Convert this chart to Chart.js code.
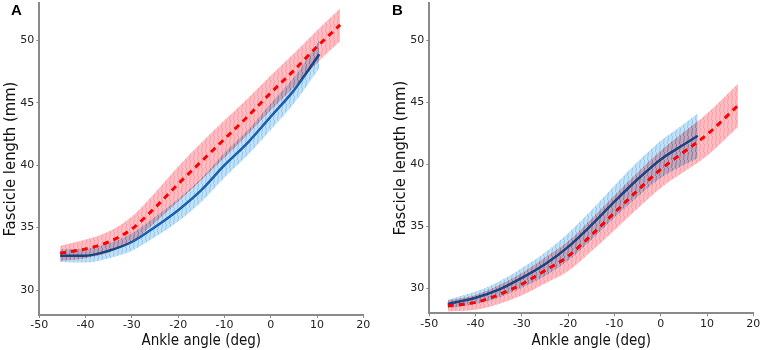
<!DOCTYPE html>
<html>
<head>
<meta charset="utf-8">
<script src="https://cdn.jsdelivr.net/npm/chart.js@4"></script>
<style>
  body { margin: 0; background: #fff; }
  #wrap { position: relative; width: 765px; height: 350px; }
  .panel { position: absolute; top: 0; height: 350px; }
  .tag { position: absolute; top: 1px; font: bold 15px "Liberation Sans", Arial, sans-serif; color: #000; }
</style>
</head>
<body>
<div id="wrap">
  <div class="panel" style="left:0; width:382px;"><canvas id="chartA"></canvas></div>
  <div class="panel" style="left:390px; width:375px;"><canvas id="chartB"></canvas></div>
  <div class="tag" style="left:11px;">A</div>
  <div class="tag" style="left:392px;">B</div>
</div>
<script>
// panel A
const anglesBlueA = [-45.5, -40, -35, -30, -25, -20, -15, -10, -5, 0, 5, 10.5];
const blueMeanA = [32.75, 32.75, 33.15, 33.85, 35.05, 36.4, 38.0, 40.0, 41.8, 43.9, 46.0, 48.9];
const blueSdA = [0.5, 0.55, 0.6, 0.7, 0.8, 0.9, 0.95, 1.0, 1.0, 1.05, 1.05, 1.1];
const anglesRedA = [-45.5, -40, -35, -30, -25, -20, -15, -10, -5, 0, 5, 10, 15];
const redMeanA = [32.95, 33.3, 33.85, 34.9, 36.6, 38.5, 40.3, 42.1, 43.9, 45.8, 47.6, 49.5, 51.25];
const redSdA = [0.6, 0.75, 0.85, 1.0, 1.2, 1.4, 1.5, 1.5, 1.45, 1.4, 1.35, 1.3, 1.3];

// panel B
const anglesBlueB = [-46, -40, -35, -30, -25, -20, -15, -10, -5, 0, 5, 8];
const blueMeanB = [28.75, 29.25, 29.9, 30.85, 31.95, 33.35, 35.1, 37.0, 38.8, 40.4, 41.6, 42.3];
const blueSdB = [0.35, 0.5, 0.65, 0.8, 0.95, 1.1, 1.2, 1.3, 1.4, 1.5, 1.65, 1.8];
const anglesRedB = [-46, -40, -35, -30, -25, -20, -15, -10, -5, 0, 5, 10, 16.7];
const redMeanB = [28.6, 28.88, 29.5, 30.35, 31.45, 32.6, 34.3, 36.1, 37.9, 39.6, 41.0, 42.4, 44.75];
const redSdB = [0.45, 0.6, 0.75, 0.9, 1.05, 1.2, 1.3, 1.4, 1.45, 1.5, 1.6, 1.7, 1.75];

const xTicks = [-50, -40, -30, -20, -10, 0, 10, 20];
const yTicks = [30, 35, 40, 45, 50];

function hatch(base, stripe) {
    const c = document.createElement('canvas');
    c.width = 4; c.height = 8;
    const g = c.getContext('2d');
    g.fillStyle = base;
    g.fillRect(0, 0, 4, 8);
    g.strokeStyle = stripe;
    g.lineWidth = 1;
    g.beginPath();
    g.moveTo(2.5, 0); g.lineTo(1.5, 8);
    g.stroke();
    return g.createPattern(c, 'repeat');
}

const redFill = hatch('rgb(255,190,196)', 'rgb(255,155,162)');
const blueFill = hatch('rgb(194,226,248)', 'rgb(145,198,240)');

// bands are multiplied onto what is under them, lines are drawn normally
const blendBands = {
    id: 'blendBands',
    beforeDatasetsDraw: c => { c.ctx.globalCompositeOperation = 'multiply'; },
    beforeDatasetDraw: c => { c.ctx.globalCompositeOperation = 'source-over'; },
    afterDatasetDraw: c => { c.ctx.globalCompositeOperation = 'multiply'; },
    afterDatasetsDraw: c => { c.ctx.globalCompositeOperation = 'source-over'; }
};

function pts(xs, ys, sd, sign) {
    return xs.map((x, i) => ({ x: x, y: sd ? ys[i] + sign * sd[i] : ys[i] }));
}

function makeChart(id, aB, mB, sB, aR, mR, sR, rightPad, axisH) {
    const line = { pointRadius: 0, cubicInterpolationMode: 'monotone' };
    const edge = { ...line, borderWidth: 0, borderColor: 'transparent' };
    const noPad = s => { s.paddingTop = 0; s.paddingBottom = 0; s.paddingLeft = 0; s.paddingRight = 0; };
    return new Chart(document.getElementById(id), {
        type: 'line',
        data: {
            datasets: [
                { ...line, data: pts(aR, mR), borderColor: '#ff0000', borderWidth: 3, borderDash: [6, 5], fill: false },
                { ...edge, data: pts(aR, mR, sR, 1), backgroundColor: redFill, fill: 2 },
                { ...edge, data: pts(aR, mR, sR, -1), fill: false },
                { ...line, data: pts(aB, mB), borderColor: '#1a5fae', borderWidth: 2.5, fill: false },
                { ...edge, data: pts(aB, mB, sB, 1), backgroundColor: blueFill, fill: 5 },
                { ...edge, data: pts(aB, mB, sB, -1), fill: false }
            ]
        },
        plugins: [blendBands],
        options: {
            responsive: false,
            animation: false,
            layout: { padding: { left: 0, right: rightPad, top: 3, bottom: 0 } },
            plugins: { legend: { display: false }, tooltip: { enabled: false } },
            scales: {
                x: {
                    type: 'linear', min: -50, max: 20,
                    afterBuildTicks: s => { s.ticks = xTicks.map(v => ({ value: v })); },
                    afterFit: s => { s.height = axisH; noPad(s); },
                    border: { color: '#8a8a8a', width: 2 },
                    grid: { drawOnChartArea: false, tickLength: 3, color: '#8a8a8a' },
                    ticks: { color: '#222', padding: 1, font: { family: 'DejaVu Sans', size: 11 }, maxRotation: 0 },
                    title: { display: true, text: 'Ankle angle (deg)', color: '#111', padding: 0,
                             font: { family: 'DejaVu Sans Condensed, DejaVu Sans', size: 15 } }
                },
                y: {
                    type: 'linear', min: 28, max: 53,
                    afterBuildTicks: s => { s.ticks = yTicks.map(v => ({ value: v })); },
                    afterFit: s => { s.width = 39.3; noPad(s); },
                    border: { color: '#8a8a8a', width: 2 },
                    grid: { drawOnChartArea: false, tickLength: 3, color: '#8a8a8a' },
                    ticks: { color: '#222', padding: 2, font: { family: 'DejaVu Sans', size: 11 } },
                    title: { display: true, text: 'Fascicle length (mm)', color: '#111', padding: { top: 1, bottom: 0 },
                             font: { family: 'DejaVu Sans Condensed, DejaVu Sans', size: 16.5 } }
                }
            }
        }
    });
}

const cA = document.getElementById('chartA');
cA.width = 382; cA.height = 350;
const cB = document.getElementById('chartB');
cB.width = 375; cB.height = 350;

makeChart('chartA', anglesBlueA, blueMeanA, blueSdA, anglesRedA, redMeanA, redSdA, 382 - 363.3, 35);
makeChart('chartB', anglesBlueB, blueMeanB, blueSdB, anglesRedB, redMeanB, redSdB, 375 - 363.3, 36.7);
</script>
</body>
</html>
